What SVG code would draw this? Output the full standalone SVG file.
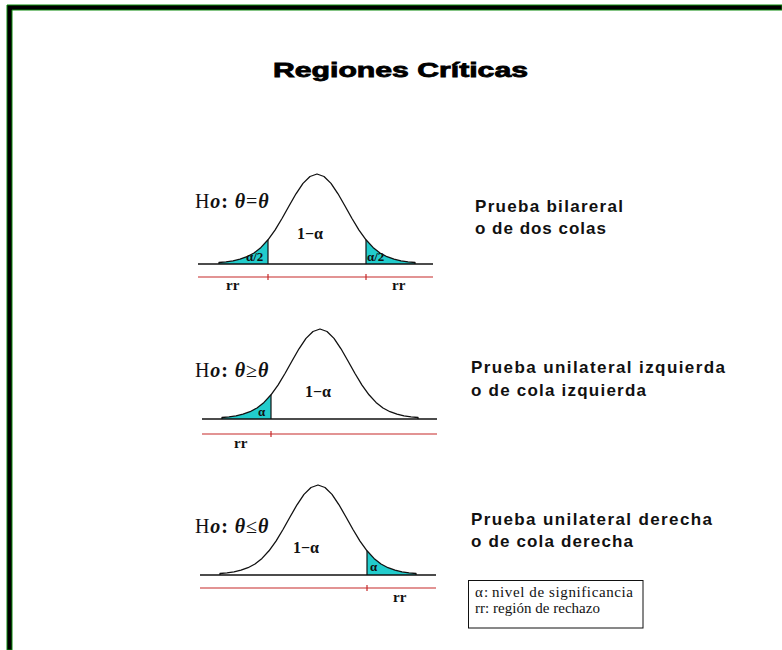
<svg xmlns="http://www.w3.org/2000/svg" width="782" height="650" viewBox="0 0 782 650">
<style>
.curve{fill:none;stroke:#111;stroke-width:1.3;stroke-linejoin:round}
.tail{fill:#22cccc;stroke:none}
.edge{stroke:#111;stroke-width:1.2}
.base{stroke:#111;stroke-width:1.5}
.red{stroke:#c62828;stroke-width:1.2}
.h0{font-family:"Liberation Serif","Times New Roman",serif;font-size:20px;fill:#111;letter-spacing:0.9px}
.bi{font-weight:bold;font-style:italic}
.b{font-weight:bold}
.one{font-family:"Liberation Serif","Times New Roman",serif;font-weight:bold;font-size:16px;fill:#111}
.sm{font-family:"Liberation Serif","Times New Roman",serif;font-weight:bold;font-size:13px;fill:#111}
.rr{font-family:"Liberation Serif","Times New Roman",serif;font-weight:bold;font-size:15px;fill:#111}
.desc{font-family:"Liberation Sans",Arial,sans-serif;font-weight:bold;font-size:17px;fill:#111}
.leg{font-family:"Liberation Serif","Times New Roman",serif;font-size:15px;fill:#111}
</style>
<defs>
<path id="bell" d="M-98,0 L-98,-1.5 L-91,-2.1 L-84,-3.1 L-77,-4.8 L-70,-7.3 L-63,-11 L-56,-16.6 L-49,-24.2 L-42,-33.9 L-35,-45.5 L-28,-58 L-21,-70.2 L-14,-80.6 L-7,-87.5 L0,-90 L7,-87.5 L14,-80.6 L21,-70.2 L28,-58 L35,-45.5 L42,-33.9 L49,-24.2 L56,-16.6 L63,-11 L70,-7.3 L77,-4.8 L84,-3.1 L91,-2.1 L98,-1.5 L98,0"/>
<path id="bellArea" d="M-98,0 L-98,-1.5 L-91,-2.1 L-84,-3.1 L-77,-4.8 L-70,-7.3 L-63,-11 L-56,-16.6 L-49,-24.2 L-42,-33.9 L-35,-45.5 L-28,-58 L-21,-70.2 L-14,-80.6 L-7,-87.5 L0,-90 L7,-87.5 L14,-80.6 L21,-70.2 L28,-58 L35,-45.5 L42,-33.9 L49,-24.2 L56,-16.6 L63,-11 L70,-7.3 L77,-4.8 L84,-3.1 L91,-2.1 L98,-1.5 L98,0 Z"/>
<clipPath id="clipL"><rect x="-100" y="-100" width="51" height="100"/></clipPath>
<clipPath id="clipR"><rect x="49" y="-100" width="51" height="100"/></clipPath>
</defs>
<rect width="782" height="650" fill="#fff"/>
<path id="frame" d="M7,5 H782 V10 H12 V650 H7 Z" fill="#000" stroke="#0a8a0a" stroke-width="1"/>
<text id="title" x="273" y="77" textLength="255" lengthAdjust="spacingAndGlyphs" font-family="'Liberation Sans',Arial,sans-serif" font-weight="900" font-size="20" fill="#000" stroke="#000" stroke-width="0.8">Regiones Críticas</text>

<g id="panel-bilateral">
<g transform="translate(317,264)">
<use href="#bellArea" class="tail" clip-path="url(#clipL)"/>
<use href="#bellArea" class="tail" clip-path="url(#clipR)"/>
<use href="#bell" class="curve"/>
<line x1="-49" y1="0" x2="-49" y2="-24.2" class="edge"/>
<line x1="49" y1="0" x2="49" y2="-24.2" class="edge"/>
<line x1="-119" y1="0" x2="116" y2="0" class="base"/>
<line x1="-119" y1="13" x2="116" y2="13" class="red"/>
<line x1="-49" y1="10" x2="-49" y2="16" class="red"/>
<line x1="49" y1="10" x2="49" y2="16" class="red"/>
</g>
<text class="h0" x="195" y="208">H<tspan class="bi">o</tspan><tspan class="b">:</tspan> <tspan class="bi">θ</tspan>=<tspan class="bi">θ</tspan></text>
<text class="one" x="297" y="239">1−α</text>
<text class="sm" x="246" y="261">α/2</text>
<text class="sm" x="367" y="261">α/2</text>
<text class="rr" x="226" y="290">rr</text>
<text class="rr" x="392" y="290">rr</text>
<text class="desc" x="475" y="212" textLength="148" lengthAdjust="spacing">Prueba bilareral</text>
<text class="desc" x="475" y="234" textLength="131" lengthAdjust="spacing">o de dos colas</text>
</g>

<g id="panel-left">
<g transform="translate(320,419)">
<use href="#bellArea" class="tail" clip-path="url(#clipL)"/>
<use href="#bell" class="curve"/>
<line x1="-49" y1="0" x2="-49" y2="-24.2" class="edge"/>
<line x1="-118" y1="0" x2="117" y2="0" class="base"/>
<line x1="-118" y1="15" x2="117" y2="15" class="red"/>
<line x1="-49" y1="12" x2="-49" y2="18" class="red"/>
</g>
<text class="h0" x="195" y="377">H<tspan class="bi">o</tspan><tspan class="b">:</tspan> <tspan class="bi">θ</tspan>≥<tspan class="bi">θ</tspan></text>
<text class="one" x="305" y="397">1−α</text>
<text class="sm" x="258" y="416">α</text>
<text class="rr" x="234" y="448">rr</text>
<text class="desc" x="471" y="373" textLength="254" lengthAdjust="spacing">Prueba unilateral izquierda</text>
<text class="desc" x="471" y="396" textLength="175" lengthAdjust="spacing">o de cola izquierda</text>
</g>

<g id="panel-right">
<g transform="translate(318,575)">
<use href="#bellArea" class="tail" clip-path="url(#clipR)"/>
<use href="#bell" class="curve"/>
<line x1="49" y1="0" x2="49" y2="-24.2" class="edge"/>
<line x1="-118" y1="0" x2="118" y2="0" class="base"/>
<line x1="-118" y1="13" x2="118" y2="13" class="red"/>
<line x1="49" y1="10" x2="49" y2="16" class="red"/>
</g>
<text class="h0" x="195" y="533">H<tspan class="bi">o</tspan><tspan class="b">:</tspan> <tspan class="bi">θ</tspan>≤<tspan class="bi">θ</tspan></text>
<text class="one" x="293" y="553">1−α</text>
<text class="sm" x="370" y="571">α</text>
<text class="rr" x="393" y="602">rr</text>
<text class="desc" x="471" y="525" textLength="241" lengthAdjust="spacing">Prueba unilateral derecha</text>
<text class="desc" x="471" y="547" textLength="162" lengthAdjust="spacing">o de cola derecha</text>
</g>

<g id="legend">
<rect x="468.5" y="580.5" width="174.5" height="47.5" fill="#fff" stroke="#111" stroke-width="1"/>
<text class="leg" x="475" y="597">α<tspan x="484">:</tspan><tspan x="492" textLength="141" lengthAdjust="spacing">nivel de significancia</tspan></text>
<text class="leg" x="475" y="613" textLength="125" lengthAdjust="spacing">rr: región de rechazo</text>
</g>
</svg>
